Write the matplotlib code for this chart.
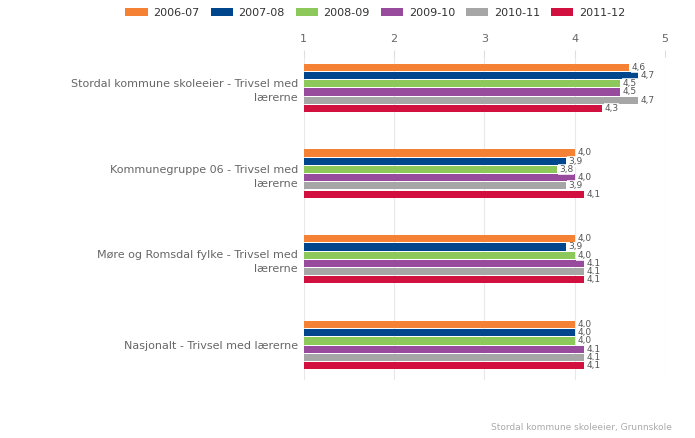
import numpy as np
import matplotlib.pyplot as plt
from matplotlib.patches import Patch

try:
    plt.switch_backend('Agg')
except ImportError:
    pass

kategorier = [
    "Stordal kommune skoleeier - Trivsel med\nlærerne",
    "Kommunegruppe 06 - Trivsel med\nlærerne",
    "Møre og Romsdal fylke - Trivsel med\nlærerne",
    "Nasjonalt - Trivsel med lærerne",
]
aar = ["2006-07", "2007-08", "2008-09", "2009-10", "2010-11", "2011-12"]
farger = ["#F58134", "#00468C", "#8CC85A", "#984A9C", "#A6A6A6", "#D21040"]

# verdier per skoleår (en liste per serie, i samme rekkefølge som kategoriene)
v_2006 = [4.6, 4.0, 4.0, 4.0]
v_2007 = [4.7, 3.9, 3.9, 4.0]
v_2008 = [4.5, 3.8, 4.0, 4.0]
v_2009 = [4.5, 4.0, 4.1, 4.1]
v_2010 = [4.7, 3.9, 4.1, 4.1]
v_2011 = [4.3, 4.1, 4.1, 4.1]
serier = [v_2006, v_2007, v_2008, v_2009, v_2010, v_2011]

fig = plt.figure(figsize=(6.95, 4.38), dpi=100)
ax = fig.add_axes([0.4367, 0.132, 0.5201, 0.738])

y = np.arange(len(kategorier))
steg = 0.096
hoyde = 0.084
for i, (verdier, farge) in enumerate(zip(serier, farger)):
    pos = y + (i - 2.5) * steg
    bredde = [v - 1 for v in verdier]
    ax.barh(pos, bredde, left=1, height=hoyde, color=farge, zorder=2)
    for p, v in zip(pos, verdier):
        ax.text(v + 0.03, p, f"{v:.1f}".replace(".", ","), fontsize=6.5,
                color="#555555", va="center", ha="left", zorder=3,
                bbox=dict(boxstyle="square,pad=0.1", fc="white", ec="none", alpha=0.8))

ax.set_xlim(1, 5)
ax.set_ylim(3.41, -0.36)
ax.set_xticks([1, 2, 3, 4, 5])
ax.xaxis.tick_top()
ax.tick_params(axis="x", length=5, color="#dddddd", labelcolor="#666666",
               labelsize=8, pad=4)
ax.set_yticks(y)
ax.set_yticklabels(kategorier, fontsize=8, color="#666666", linespacing=1.5)
ax.tick_params(axis="y", length=0, pad=4)
ax.grid(axis="x", color="#e8e8e8", linewidth=0.8, zorder=0)
for s in ax.spines.values():
    s.set_visible(False)

handles = [Patch(facecolor=f, edgecolor="none") for f in farger]
fig.legend(handles, aar, loc="upper center", bbox_to_anchor=(0.54, 1.005), ncol=6,
           frameon=False, fontsize=8, handlelength=2.0, handleheight=0.7,
           columnspacing=1.0, handletextpad=0.5, labelcolor="#333333")

fig.text(0.967, 0.013, "Stordal kommune skoleeier, Grunnskole", fontsize=6.5,
         color="#aaaaaa", ha="right", va="bottom")

fig.savefig("out.png", dpi=100)
plt.close()
